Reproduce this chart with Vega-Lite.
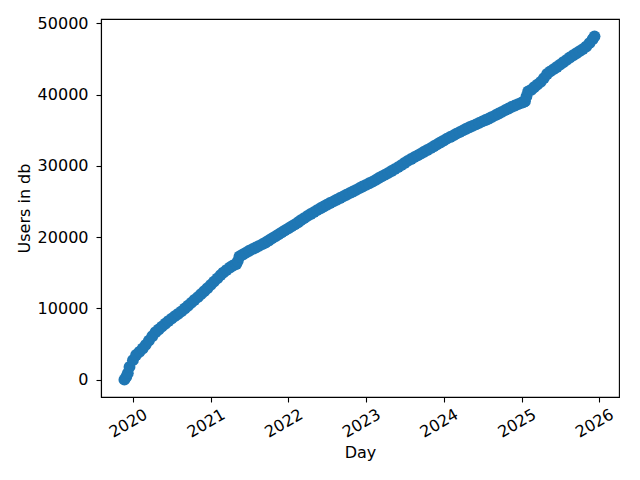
{
  "$schema": "https://vega.github.io/schema/vega-lite/v6.json",
  "autosize": {"type": "none"},
  "padding": {"left": 101, "top": 19, "right": 21, "bottom": 83},
  "width": 518,
  "height": 378,
  "background": "white",
  "config": {
    "font": "DejaVu Sans",
    "view": {"stroke": "#000000", "strokeWidth": 1.1},
    "axis": {
      "grid": false,
      "domainColor": "#000000",
      "domainWidth": 1.1,
      "tickColor": "#000000",
      "tickWidth": 1.1,
      "tickSize": 5,
      "labelFont": "DejaVu Sans",
      "labelFontSize": 16,
      "labelColor": "#000000",
      "titleFont": "DejaVu Sans",
      "titleFontSize": 16,
      "titleFontWeight": "normal",
      "titleColor": "#000000"
    }
  },
  "data": {
    "values": [
      {"day": "2019-11-22", "users": 0},
      {"day": "2019-12-01", "users": 420},
      {"day": "2019-12-08", "users": 920},
      {"day": "2019-12-16", "users": 1790},
      {"day": "2020-01-01", "users": 2745},
      {"day": "2020-01-16", "users": 3467},
      {"day": "2020-02-01", "users": 3915},
      {"day": "2020-02-16", "users": 4374},
      {"day": "2020-03-01", "users": 4884},
      {"day": "2020-03-16", "users": 5482},
      {"day": "2020-04-01", "users": 6094},
      {"day": "2020-04-16", "users": 6655},
      {"day": "2020-05-01", "users": 7046},
      {"day": "2020-05-16", "users": 7446},
      {"day": "2020-06-01", "users": 7847},
      {"day": "2020-06-16", "users": 8231},
      {"day": "2020-07-01", "users": 8573},
      {"day": "2020-07-16", "users": 8914},
      {"day": "2020-08-01", "users": 9248},
      {"day": "2020-08-16", "users": 9590},
      {"day": "2020-09-01", "users": 9990},
      {"day": "2020-09-16", "users": 10381},
      {"day": "2020-10-01", "users": 10782},
      {"day": "2020-10-16", "users": 11182},
      {"day": "2020-11-01", "users": 11588},
      {"day": "2020-11-16", "users": 12005},
      {"day": "2020-12-01", "users": 12422},
      {"day": "2020-12-16", "users": 12839},
      {"day": "2021-01-01", "users": 13307},
      {"day": "2021-01-16", "users": 13774},
      {"day": "2021-02-01", "users": 14230},
      {"day": "2021-02-16", "users": 14680},
      {"day": "2021-03-01", "users": 15039},
      {"day": "2021-03-16", "users": 15389},
      {"day": "2021-04-01", "users": 15748},
      {"day": "2021-04-16", "users": 16025},
      {"day": "2021-05-01", "users": 16230},
      {"day": "2021-05-08", "users": 16650},
      {"day": "2021-05-16", "users": 17290},
      {"day": "2021-06-01", "users": 17572},
      {"day": "2021-06-16", "users": 17844},
      {"day": "2021-07-01", "users": 18103},
      {"day": "2021-07-16", "users": 18334},
      {"day": "2021-08-01", "users": 18559},
      {"day": "2021-08-16", "users": 18789},
      {"day": "2021-09-01", "users": 19020},
      {"day": "2021-09-16", "users": 19258},
      {"day": "2021-10-01", "users": 19546},
      {"day": "2021-10-16", "users": 19833},
      {"day": "2021-11-01", "users": 20114},
      {"day": "2021-11-16", "users": 20400},
      {"day": "2021-12-01", "users": 20684},
      {"day": "2021-12-16", "users": 20960},
      {"day": "2022-01-01", "users": 21243},
      {"day": "2022-01-16", "users": 21527},
      {"day": "2022-02-01", "users": 21810},
      {"day": "2022-02-16", "users": 22100},
      {"day": "2022-03-01", "users": 22390},
      {"day": "2022-03-16", "users": 22672},
      {"day": "2022-04-01", "users": 22990},
      {"day": "2022-04-16", "users": 23260},
      {"day": "2022-05-01", "users": 23530},
      {"day": "2022-05-16", "users": 23800},
      {"day": "2022-06-01", "users": 24060},
      {"day": "2022-06-16", "users": 24310},
      {"day": "2022-07-01", "users": 24564},
      {"day": "2022-07-16", "users": 24802},
      {"day": "2022-08-01", "users": 25033},
      {"day": "2022-08-16", "users": 25266},
      {"day": "2022-09-01", "users": 25499},
      {"day": "2022-09-16", "users": 25727},
      {"day": "2022-10-01", "users": 25960},
      {"day": "2022-10-16", "users": 26193},
      {"day": "2022-11-01", "users": 26420},
      {"day": "2022-11-16", "users": 26653},
      {"day": "2022-12-01", "users": 26886},
      {"day": "2022-12-16", "users": 27114},
      {"day": "2023-01-01", "users": 27347},
      {"day": "2023-01-16", "users": 27575},
      {"day": "2023-02-01", "users": 27810},
      {"day": "2023-02-16", "users": 28050},
      {"day": "2023-03-01", "users": 28290},
      {"day": "2023-03-16", "users": 28530},
      {"day": "2023-04-01", "users": 28780},
      {"day": "2023-04-16", "users": 29030},
      {"day": "2023-05-01", "users": 29290},
      {"day": "2023-05-16", "users": 29560},
      {"day": "2023-06-01", "users": 29840},
      {"day": "2023-06-16", "users": 30124},
      {"day": "2023-07-01", "users": 30415},
      {"day": "2023-07-16", "users": 30706},
      {"day": "2023-08-01", "users": 30979},
      {"day": "2023-08-16", "users": 31234},
      {"day": "2023-09-01", "users": 31489},
      {"day": "2023-09-16", "users": 31738},
      {"day": "2023-10-01", "users": 31993},
      {"day": "2023-10-16", "users": 32248},
      {"day": "2023-11-01", "users": 32506},
      {"day": "2023-11-16", "users": 32773},
      {"day": "2023-12-01", "users": 33040},
      {"day": "2023-12-16", "users": 33301},
      {"day": "2024-01-01", "users": 33568},
      {"day": "2024-01-16", "users": 33835},
      {"day": "2024-02-01", "users": 34073},
      {"day": "2024-02-16", "users": 34303},
      {"day": "2024-03-01", "users": 34533},
      {"day": "2024-03-16", "users": 34758},
      {"day": "2024-04-01", "users": 34989},
      {"day": "2024-04-16", "users": 35219},
      {"day": "2024-05-01", "users": 35433},
      {"day": "2024-05-16", "users": 35639},
      {"day": "2024-06-01", "users": 35845},
      {"day": "2024-06-16", "users": 36046},
      {"day": "2024-07-01", "users": 36252},
      {"day": "2024-07-16", "users": 36458},
      {"day": "2024-08-01", "users": 36667},
      {"day": "2024-08-16", "users": 36901},
      {"day": "2024-09-01", "users": 37136},
      {"day": "2024-09-16", "users": 37365},
      {"day": "2024-10-01", "users": 37599},
      {"day": "2024-10-16", "users": 37834},
      {"day": "2024-11-01", "users": 38065},
      {"day": "2024-11-16", "users": 38299},
      {"day": "2024-12-01", "users": 38491},
      {"day": "2024-12-16", "users": 38678},
      {"day": "2025-01-01", "users": 38869},
      {"day": "2025-01-10", "users": 38983},
      {"day": "2025-01-17", "users": 39070},
      {"day": "2025-01-24", "users": 39770},
      {"day": "2025-02-01", "users": 40480},
      {"day": "2025-02-16", "users": 40693},
      {"day": "2025-03-01", "users": 41053},
      {"day": "2025-03-16", "users": 41421},
      {"day": "2025-04-01", "users": 41799},
      {"day": "2025-04-16", "users": 42338},
      {"day": "2025-05-01", "users": 42907},
      {"day": "2025-05-16", "users": 43285},
      {"day": "2025-06-01", "users": 43590},
      {"day": "2025-06-16", "users": 43888},
      {"day": "2025-07-01", "users": 44217},
      {"day": "2025-07-16", "users": 44556},
      {"day": "2025-08-01", "users": 44888},
      {"day": "2025-08-16", "users": 45228},
      {"day": "2025-09-01", "users": 45542},
      {"day": "2025-09-16", "users": 45825},
      {"day": "2025-10-01", "users": 46115},
      {"day": "2025-10-16", "users": 46404},
      {"day": "2025-11-01", "users": 46763},
      {"day": "2025-11-16", "users": 47240},
      {"day": "2025-12-01", "users": 47780},
      {"day": "2025-12-10", "users": 48200}
    ]
  },
  "mark": {"type": "circle", "size": 140, "color": "#1f77b4", "opacity": 1},
  "encoding": {
    "x": {
      "field": "day",
      "type": "temporal",
      "title": "Day",
      "scale": {
        "domain": [
          {"year": 2019, "month": 8, "date": 4},
          {"year": 2026, "month": 4, "date": 4}
        ],
        "nice": false
      },
      "axis": {
        "format": "%Y",
        "tickCount": {"interval": "year", "step": 1},
        "labelAngle": -30,
        "labelAlign": "center",
        "labelBaseline": "middle",
        "labelPadding": 21,
        "labelOffset": -5,
        "labelFlush": false,
        "labelOverlap": false,
        "titlePadding": 4
      }
    },
    "y": {
      "field": "users",
      "type": "quantitative",
      "title": "Users in db",
      "scale": {"domain": [-2430, 50630], "nice": false, "zero": false},
      "axis": {
        "values": [0, 10000, 20000, 30000, 40000, 50000],
        "format": "d",
        "labelPadding": 8,
        "titlePadding": 5
      }
    }
  }
}
